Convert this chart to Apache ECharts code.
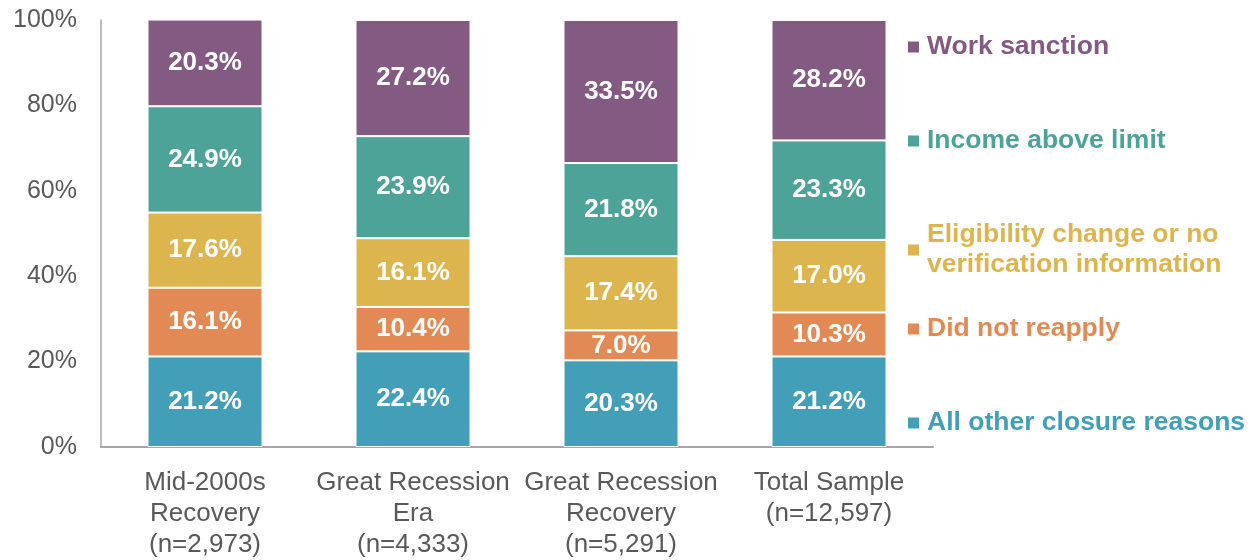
<!DOCTYPE html>
<html>
<head>
<meta charset="utf-8">
<script src="https://cdn.jsdelivr.net/npm/echarts@6/dist/echarts.min.js"></script>
<style>
  html, body { margin: 0; padding: 0; background: #fff; }
  #chart { width: 1257px; height: 560px; }
</style>
</head>
<body>
<div id="chart"></div>
<script>
// categories
const periods = ['Mid-2000s\nRecovery', 'Great Recession\nEra', 'Great Recession\nRecovery', 'Total Sample'];
const sampleSizes = ['2,973', '4,333', '5,291', '12,597'];
const yTicks = [0, 20, 40, 60, 80, 100];

// closure reasons, bottom to top of each stack
const allOther = [21.2, 22.4, 20.3, 21.2];
const didNotReapply = [16.1, 10.4, 7.0, 10.3];
const eligibility = [17.6, 16.1, 17.4, 17.0];
const incomeAbove = [24.9, 23.9, 21.8, 23.3];
const workSanction = [20.3, 27.2, 33.5, 28.2];

const names = ['All other closure reasons', 'Did not reapply', 'Eligibility change or no verification information', 'Income above limit', 'Work sanction'];
const values = [allOther, didNotReapply, eligibility, incomeAbove, workSanction];
const colors = ['#439FB8', '#E28A55', '#DDB54F', '#4EA399', '#825A82'];

const labels = periods.map((p, i) => p + '\n(n=' + sampleSizes[i] + ')');

const chart = echarts.init(document.getElementById('chart'));

// legend centre y for each reason (first line)
const legendCentres = [421, 327, 233, 139, 45];
const lh = 30;
const legends = names.map((n, i) => {
  const twoLine = i === 2;
  return {
    data: [n],
    left: 908,
    top: twoLine ? legendCentres[i] - lh * 1.5 + 17 : legendCentres[i] - lh / 2 + 2,
    padding: 0,
    icon: 'rect',
    itemWidth: 11,
    itemHeight: 11,
    itemStyle: { borderWidth: 0 },
    selectedMode: false,
    formatter: twoLine ? () => 'Eligibility change or no\nverification information' : '{name}',
    textStyle: {
      color: colors[i],
      fontFamily: 'Liberation Sans, Arial, sans-serif',
      fontWeight: 'bold',
      fontSize: 26.5,
      lineHeight: lh,
      padding: twoLine ? [0, 0, lh, 3] : [0, 0, 0, 3],
    },
  };
});

const option = {
  animation: false,
  textStyle: { fontFamily: 'Liberation Sans, Arial, sans-serif' },
  grid: { left: 101, right: 324, top: 20, bottom: 110 },
  legend: legends,
  xAxis: {
    type: 'category',
    data: labels,
    axisTick: { show: false },
    axisLine: { lineStyle: { color: '#A6A6A6', width: 2 } },
    axisLabel: {
      color: '#595959',
      fontSize: 26,
      lineHeight: 31,
      margin: 20,
      interval: 0,
    },
  },
  yAxis: {
    type: 'value',
    min: yTicks[0],
    max: yTicks[yTicks.length - 1],
    interval: 20,
    splitLine: { show: false },
    axisLine: { show: true, lineStyle: { color: '#A6A6A6', width: 1.5 } },
    axisLabel: {
      color: '#595959',
      fontSize: 25,
      margin: 24,
      formatter: '{value}%',
    },
  },
  series: names.map((n, i) => ({
    name: n,
    type: 'bar',
    stack: 'total',
    data: values[i],
    barWidth: 115,
    itemStyle: { color: colors[i], borderColor: '#fff', borderWidth: 1 },
    label: {
      show: true,
      position: 'inside',
      color: '#fff',
      fontWeight: 'bold',
      fontSize: 26,
      formatter: (p) => p.value.toFixed(1) + '%',
    },
  })),
};

chart.setOption(option);
</script>
</body>
</html>
